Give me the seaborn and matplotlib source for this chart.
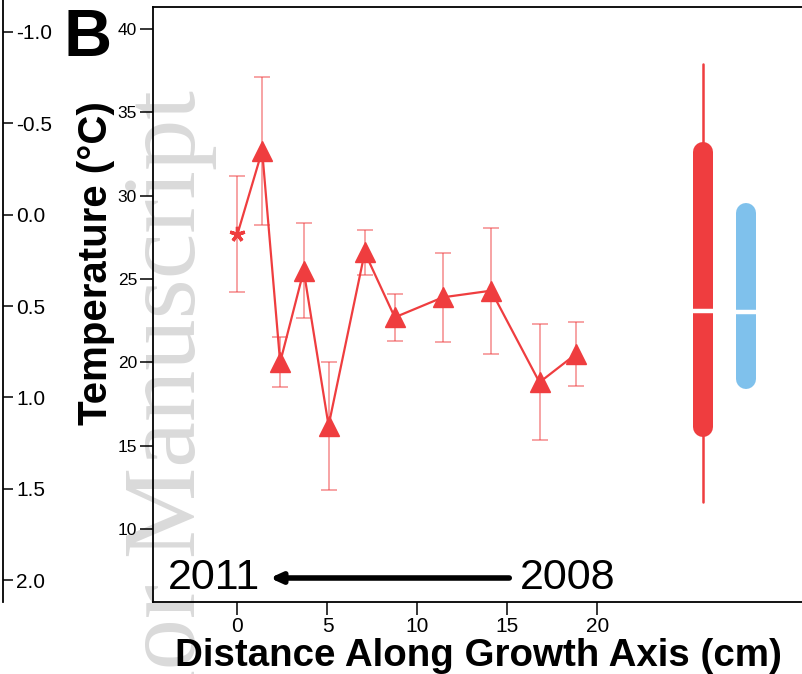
import matplotlib
matplotlib.use("Agg")
import matplotlib.pyplot as plt
import seaborn as sns
import numpy as np
import pandas as pd

# ---- data ----
distance_cm = [0.0, 1.37, 2.37, 3.68, 5.06, 7.07, 8.74, 11.41, 14.09, 16.78, 18.81]
temperature_c = [27.7, 32.7, 20.0, 25.5, 16.2, 26.6, 22.7, 23.9, 24.3, 18.8, 20.5]
temperature_err = [3.5, 4.45, 1.5, 2.85, 3.83, 1.37, 1.42, 2.68, 3.78, 3.48, 1.9]

# summary bars: (x position, whisker low, bar low, median, bar high, whisker high)
summary_red = [25.86, 11.64, 16.14, 23.08, 32.64, 37.9]
summary_blue = [28.25, None, 18.98, 23.0, 28.94, None]

x_ticks = [0, 5, 10, 15, 20]
y_ticks = [10, 15, 20, 25, 30, 35, 40]
left_ticks = [-1.0, -0.5, 0.0, 0.5, 1.0, 1.5, 2.0]

RED = "#EF3D3F"
BLUE = "#7FC1EC"

sns.set_theme(style="white")
plt.rcParams["font.family"] = ["Liberation Sans", "DejaVu Sans"]

W, H = 803, 674
fig = plt.figure(figsize=(W / 100, H / 100), dpi=100)

# main panel
ax = fig.add_axes([153 / W, (H - 602) / H, 650 / W, 595 / H])
ax.set_facecolor("none")
ax.set_zorder(2)

df = pd.DataFrame({"distance": distance_cm, "temp": temperature_c, "err": temperature_err})

sns.lineplot(data=df, x="distance", y="temp", color=RED, lw=1.6, ax=ax, zorder=3)
ax.errorbar(df["distance"], df["temp"], yerr=df["err"], fmt="none",
            ecolor=RED, alpha=0.6, elinewidth=1.1, capsize=6, capthick=1.1, zorder=2)
ax.plot(df["distance"][1:], df["temp"][1:], ls="none", marker="^", ms=14,
        color=RED, mec=RED, zorder=4)
ax.plot(df["distance"][:1], df["temp"][:1], ls="none", marker=(5, 2, 0), ms=11,
        mew=2.4, color=RED, zorder=4)

# summary bars
def summary_bar(vals, color):
    x, wlo, blo, med, bhi, whi = vals
    if wlo is not None:
        ax.plot([x, x], [wlo, whi], color=color, lw=1.8, solid_capstyle="round", zorder=3)
    ax.plot([x, x], [blo, bhi], color=color, lw=14.4, solid_capstyle="round", zorder=3)
    ax.plot([x - 0.62, x + 0.62], [med, med], color="white", lw=3.2, zorder=4)

summary_bar(summary_red, RED)
summary_bar(summary_blue, BLUE)

ax.set_xlim(-4.694, 31.42)
ax.set_ylim(5.62, 41.32)
ax.set_xticks(x_ticks)
ax.set_yticks(y_ticks)
ax.tick_params(axis="both", direction="out", length=9.5, width=1.1, color="black",
               labelsize=12.5, labelcolor="black", left=True, bottom=True)
ax.tick_params(axis="y", pad=2)
ax.tick_params(axis="x", pad=1.5, labelsize=15)
for side in ["left", "top", "bottom"]:
    ax.spines[side].set_visible(True)
    ax.spines[side].set_color("black")
    ax.spines[side].set_linewidth(1.3)
ax.spines["right"].set_visible(False)

ax.set_xlabel("Distance Along Growth Axis (cm)", fontsize=27.7, fontweight="bold", color="black")
ax.xaxis.set_label_coords((478 - 153) / 650, (602 - 638) / 595)
ax.set_ylabel("Temperature (°C)", fontsize=29, fontweight="bold", color="black")
ax.yaxis.set_label_coords((115 - 153) / 650, (602 - 263) / 595)

# time direction arrow
ax.annotate("", xy=(1.8, 7.06), xytext=(15.1, 7.06),
            arrowprops=dict(arrowstyle="-|>,head_length=0.55,head_width=0.25",
                            lw=4, color="black", shrinkA=0, shrinkB=0))
ax.text(-3.86, 7.06, "2011", fontsize=31, va="center", ha="left", color="black")
ax.text(15.7, 7.06, "2008", fontsize=31, va="center", ha="left", color="black")

# left companion axis
ax2 = fig.add_axes([0, (H - 602) / H, 3.5 / W, 602 / H])
ax2.set_facecolor("none")
ax2.set_xticks([])
ax2.set_ylim(2.12, -1.175)
ax2.yaxis.tick_right()
ax2.set_yticks(left_ticks)
ax2.set_yticklabels([f"{v:.1f}" for v in left_ticks])
ax2.tick_params(axis="y", direction="out", length=7, width=1.1, color="black",
                labelsize=15, labelcolor="black", pad=2, right=True)
for side in ["left", "top", "bottom"]:
    ax2.spines[side].set_visible(False)
ax2.spines["right"].set_visible(True)
ax2.spines["right"].set_color("black")
ax2.spines["right"].set_linewidth(1.3)

# panel letter
fig.text(64 / W, (H - 56) / H, "B", fontsize=48, fontweight="bold", color="black",
         ha="left", va="baseline")

# watermark
fig.text(195 / W, (H - 90) / H, "Author Manuscript", rotation=90, rotation_mode="anchor",
         ha="right", va="baseline", fontsize=74, family="Liberation Serif",
         color="#dadada", zorder=0)

fig.savefig("out.png", dpi=100)
